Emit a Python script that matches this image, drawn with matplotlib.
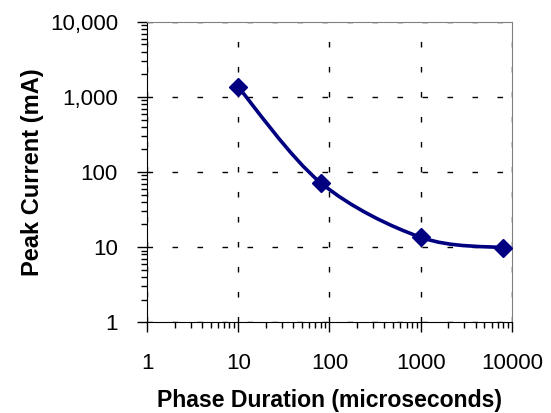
import numpy as np
import matplotlib.pyplot as plt
from matplotlib.path import Path
from matplotlib.patches import PathPatch
from matplotlib.ticker import FixedLocator, LogLocator, NullFormatter

plt.rcParams['font.family'] = ['Liberation Sans', 'DejaVu Sans']

# data
phase_us = [10, 80, 1000, 8000]
peak_ma = [1350, 72, 13.5, 9.8]

x_ticks = [1, 10, 100, 1000, 10000]
x_labels = ['1', '10', '100', '1000', '10000']
y_ticks = [1, 10, 100, 1000, 10000]
y_labels = ['1', '10', '100', '1,000', '10,000']

navy = '#000080'


def smooth_path(xs, ys):
    # Excel-like smoothed line: cubic Bezier segments built in log-log space
    p = np.column_stack([np.log10(xs), np.log10(ys)])
    n = len(p)
    verts = [p[0]]
    codes = [Path.MOVETO]
    for i in range(n - 1):
        p0 = p[i - 1] if i > 0 else p[i]
        p1 = p[i]
        p2 = p[i + 1]
        p3 = p[i + 2] if i + 2 < n else p[i + 1]
        c1 = p1 + (p2 - p0) / 6.0
        c2 = p2 - (p3 - p1) / 6.0
        verts += [c1, c2, p2]
        codes += [Path.CURVE4] * 3
    verts = 10 ** np.array(verts)
    return Path(verts, codes)


fig = plt.figure(figsize=(5.51, 4.13), dpi=100)
ax = fig.add_axes([0.267, 0.220, 0.662, 0.727])
ax.set_xscale('log')
ax.set_yscale('log')
ax.set_xlim(1, 10000)
ax.set_ylim(1, 10000)

ax.add_patch(PathPatch(smooth_path(phase_us, peak_ma), fill=False,
                       edgecolor=navy, lw=2.6, zorder=3))
ax.plot(phase_us, peak_ma, 'D', color=navy, markersize=9.2, zorder=4,
        clip_on=False)

ax.xaxis.set_major_locator(FixedLocator(x_ticks))
ax.set_xticklabels(x_labels)
ax.yaxis.set_major_locator(FixedLocator(y_ticks))
ax.set_yticklabels(y_labels)
ax.xaxis.set_minor_locator(LogLocator(base=10, subs=np.arange(2, 10)))
ax.yaxis.set_minor_locator(LogLocator(base=10, subs=np.arange(2, 10)))
ax.xaxis.set_minor_formatter(NullFormatter())
ax.yaxis.set_minor_formatter(NullFormatter())

ax.tick_params(which='major', direction='out', length=7, width=1,
               labelsize=16)
ax.tick_params(which='minor', direction='out', length=4, width=1)
ax.tick_params(axis='y', which='major', pad=14)
ax.tick_params(axis='x', which='major', pad=15)

ax.grid(True, which='major', color='black', linestyle=(0, (4, 14)), lw=1)

for side in ['top', 'right']:
    ax.spines[side].set_color('#808080')
for side in ['left', 'bottom']:
    ax.spines[side].set_color('black')

ax.set_xlabel('Phase Duration (microseconds)', fontsize=16.6,
              fontweight='bold', va='center')
ax.xaxis.set_label_coords(0.5, -0.26)
ax.set_ylabel('Peak Current (mA)', fontsize=17, fontweight='bold',
              va='center')
ax.yaxis.set_label_coords(-0.315, 0.5)

fig.savefig('out.png', dpi=100)
